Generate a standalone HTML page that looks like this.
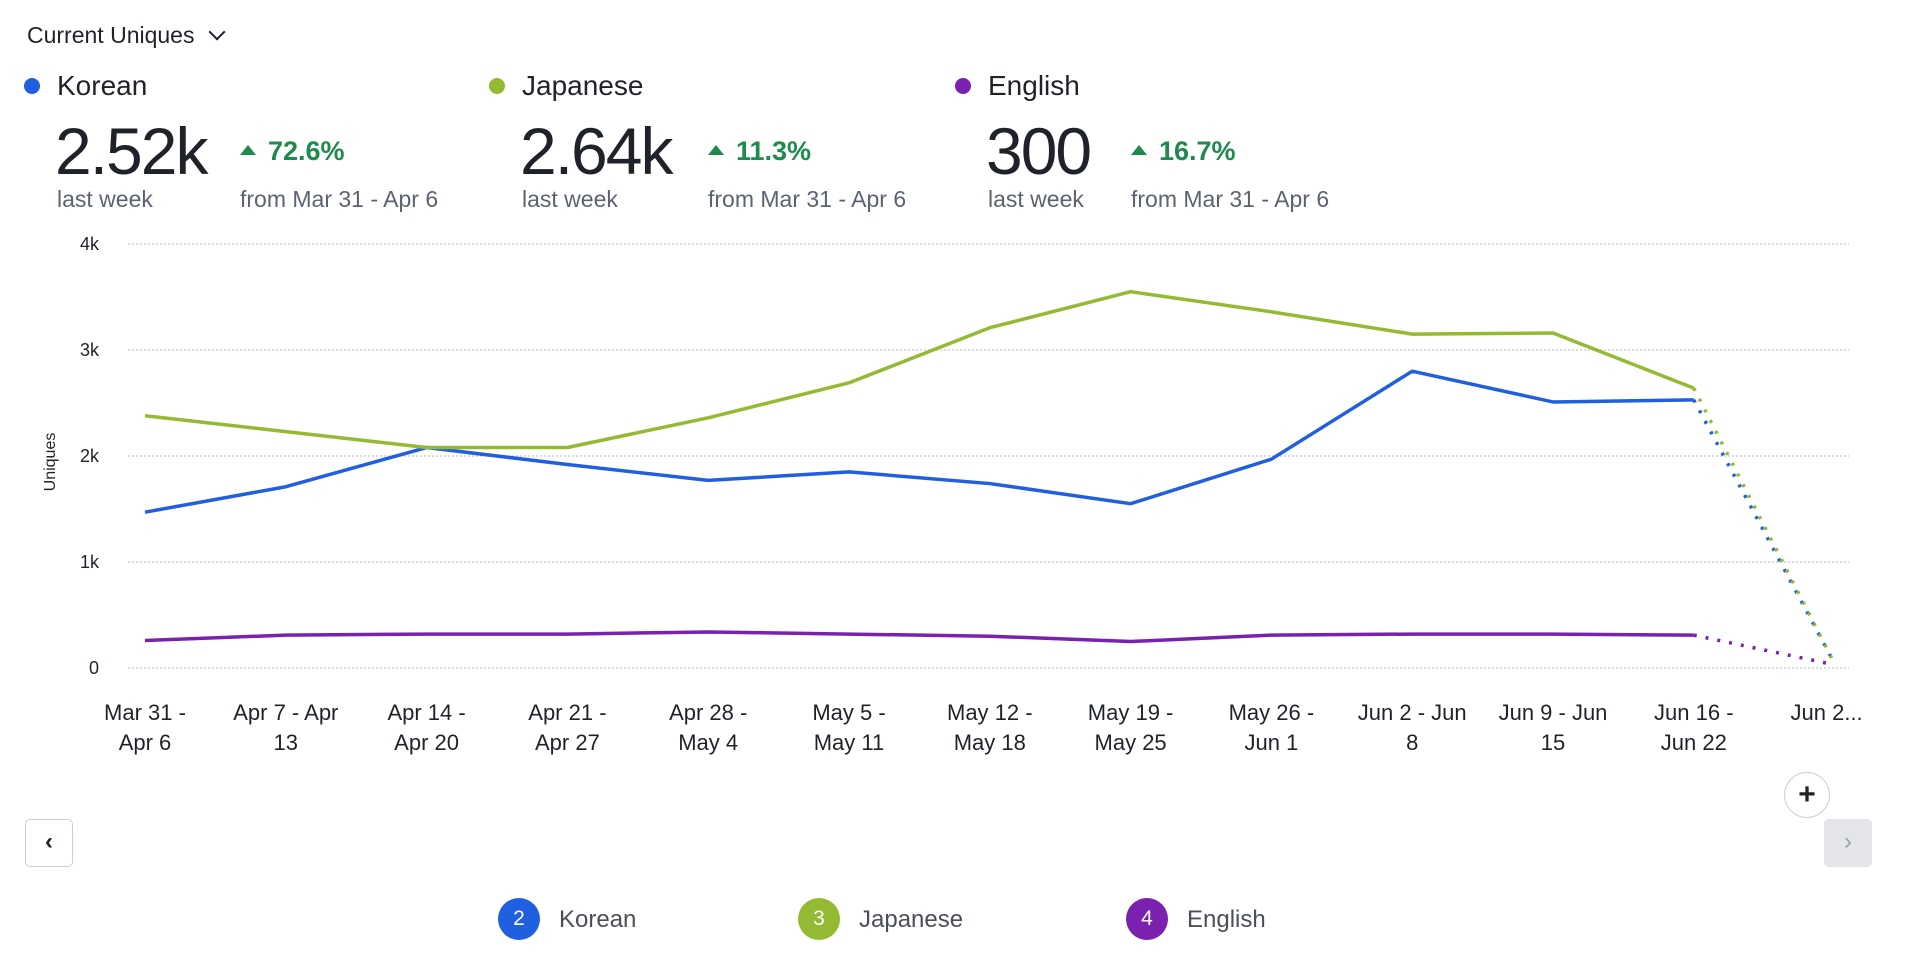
<!DOCTYPE html>
<html><head><meta charset="utf-8"><style>
body{margin:0;width:1908px;height:962px;background:#fff;font-family:"Liberation Sans",sans-serif;color:#1f2329;overflow:hidden;position:relative}
.a{position:absolute;white-space:nowrap}
.dot{position:absolute;width:16px;height:16px;border-radius:50%}
.big{font-size:66px;letter-spacing:-2px;line-height:1}
.sub{font-size:23px;color:#5c6370}
.pct{font-size:27px;color:#1e8a4c;font-weight:bold}
.tri{display:inline-block;width:0;height:0;border-left:8px solid transparent;border-right:8px solid transparent;border-bottom:10px solid #1e8a4c;margin-right:12px;vertical-align:middle;position:relative;top:-3px}
.lg{position:absolute;width:42px;height:42px;border-radius:50%;color:#fff;font-size:21px;text-align:center;line-height:42px}
.lt{font-size:24px;color:#4a4f57}
</style></head><body>
<div class="a" style="left:27px;top:22px;font-size:23px">Current Uniques <span style="display:inline-block;width:10px;height:10px;border-right:2.5px solid #1f2329;border-bottom:2.5px solid #1f2329;transform:rotate(45deg);margin-left:10px;position:relative;top:-5px"></span></div>

<div>
<div class="dot" style="left:24px;top:78px;background:#1f5fe0"></div>
<div class="a" style="left:57px;top:70px;font-size:28px">Korean</div>
<div class="a big" style="left:55px;top:118px">2.52k</div>
<div class="a sub" style="left:57px;top:186px">last week</div>
<div class="a pct" style="left:240px;top:136px"><span class="tri"></span>72.6%</div>
<div class="a sub" style="left:240px;top:186px">from Mar 31 - Apr 6</div>
</div>
<div>
<div class="dot" style="left:489px;top:78px;background:#93ba32"></div>
<div class="a" style="left:522px;top:70px;font-size:28px">Japanese</div>
<div class="a big" style="left:520px;top:118px">2.64k</div>
<div class="a sub" style="left:522px;top:186px">last week</div>
<div class="a pct" style="left:708px;top:136px"><span class="tri"></span>11.3%</div>
<div class="a sub" style="left:708px;top:186px">from Mar 31 - Apr 6</div>
</div>
<div>
<div class="dot" style="left:955px;top:78px;background:#7b21b0"></div>
<div class="a" style="left:988px;top:70px;font-size:28px">English</div>
<div class="a big" style="left:986px;top:118px">300</div>
<div class="a sub" style="left:988px;top:186px">last week</div>
<div class="a pct" style="left:1131px;top:136px"><span class="tri"></span>16.7%</div>
<div class="a sub" style="left:1131px;top:186px">from Mar 31 - Apr 6</div>
</div>

<svg id="chart" style="position:absolute;left:0;top:0" width="1908" height="962"></svg>

<div class="a" style="left:1784px;top:772px;width:44px;height:44px;border:1.5px solid #ccd0d6;border-radius:50%;text-align:center;line-height:44px;font-size:30px;font-weight:bold">+</div>
<div class="a" style="left:25px;top:819px;width:46px;height:46px;border:1.5px solid #ccd0d6;border-radius:5px;text-align:center;line-height:44px;font-size:24px;font-weight:bold">‹</div>
<div class="a" style="left:1824px;top:819px;width:48px;height:48px;background:#e3e5e9;border-radius:5px;text-align:center;line-height:46px;font-size:24px;color:#9aa0a8">›</div>

<div><div class="lg" style="left:498px;top:898px;background:#1f5fe0">2</div><div class="a lt" style="left:559px;top:906px">Korean</div></div>
<div><div class="lg" style="left:798px;top:898px;background:#93ba32">3</div><div class="a lt" style="left:859px;top:906px">Japanese</div></div>
<div><div class="lg" style="left:1126px;top:898px;background:#7b21b0">4</div><div class="a lt" style="left:1187px;top:906px">English</div></div>

<script>
const categories=[["Mar 31 -","Apr 6"],["Apr 7 - Apr","13"],["Apr 14 -","Apr 20"],["Apr 21 -","Apr 27"],["Apr 28 -","May 4"],["May 5 -","May 11"],["May 12 -","May 18"],["May 19 -","May 25"],["May 26 -","Jun 1"],["Jun 2 - Jun","8"],["Jun 9 - Jun","15"],["Jun 16 -","Jun 22"],["Jun 2...",""]];
const korean=[1470,1710,2080,1920,1770,1850,1740,1550,1970,2800,2510,2530,40];
const japanese=[2380,2230,2080,2080,2360,2690,3210,3550,3360,3150,3160,2640,40];
const english=[260,310,320,320,340,320,300,250,310,320,320,310,30];
const yTicks=[0,1000,2000,3000,4000];
const yTickLabels=["0","1k","2k","3k","4k"];
const NS="http://www.w3.org/2000/svg",svg=document.getElementById('chart');
const x0=145,dx=140.8,yb=668,yt=244,ymax=4000;
const X=i=>x0+i*dx, Y=v=>yb-(v/ymax)*(yb-yt);
function mk(t,a){const e=document.createElementNS(NS,t);for(const k in a)e.setAttribute(k,a[k]);svg.appendChild(e);return e;}
yTicks.forEach((v,i)=>{
 const g=mk('line',{x1:128,x2:1849,y1:Y(v),y2:Y(v),stroke:'#c4c8ce','stroke-dasharray':'2 2','stroke-width':1.2});
 
 
 const t=mk('text',{x:99,y:Y(v)+6,'text-anchor':'end','font-size':18,fill:'#1f2329','font-family':'Liberation Sans'});
 t.textContent=yTickLabels[i];
 
 
});
const yt2=mk('text',{x:0,y:0,transform:'translate(55,462) rotate(-90)','text-anchor':'middle','font-size':16,fill:'#1f2329','font-family':'Liberation Sans'});
yt2.textContent='Uniques';


categories.forEach((c,i)=>{
 const cx=i===categories.length-1?X(i)-8:X(i);
 c.forEach((s,j)=>{const t=mk('text',{x:cx,y:720+j*30,'text-anchor':'middle','font-size':22,fill:'#1f2329','font-family':'Liberation Sans'});t.textContent=s;
 
 });
});
function series(d,col,name){
 const n=d.length-1;
 const p=d.slice(0,n).map((v,i)=>X(i)+','+Y(v)).join(' ');
 const l=mk('polyline',{points:p,fill:'none',stroke:col,'stroke-width':3.5,'stroke-linejoin':'round'});
 
 
 const dl=mk('line',{x1:X(n-1),y1:Y(d[n-1]),x2:X(n),y2:Y(d[n]),stroke:col,'stroke-width':3.5,'stroke-dasharray':'3 9'});
 
 
}
series(english,'#7b21b0','english');
series(korean,'#1f5fe0','korean');
series(japanese,'#93ba32','japanese');
</script>
</body></html>
